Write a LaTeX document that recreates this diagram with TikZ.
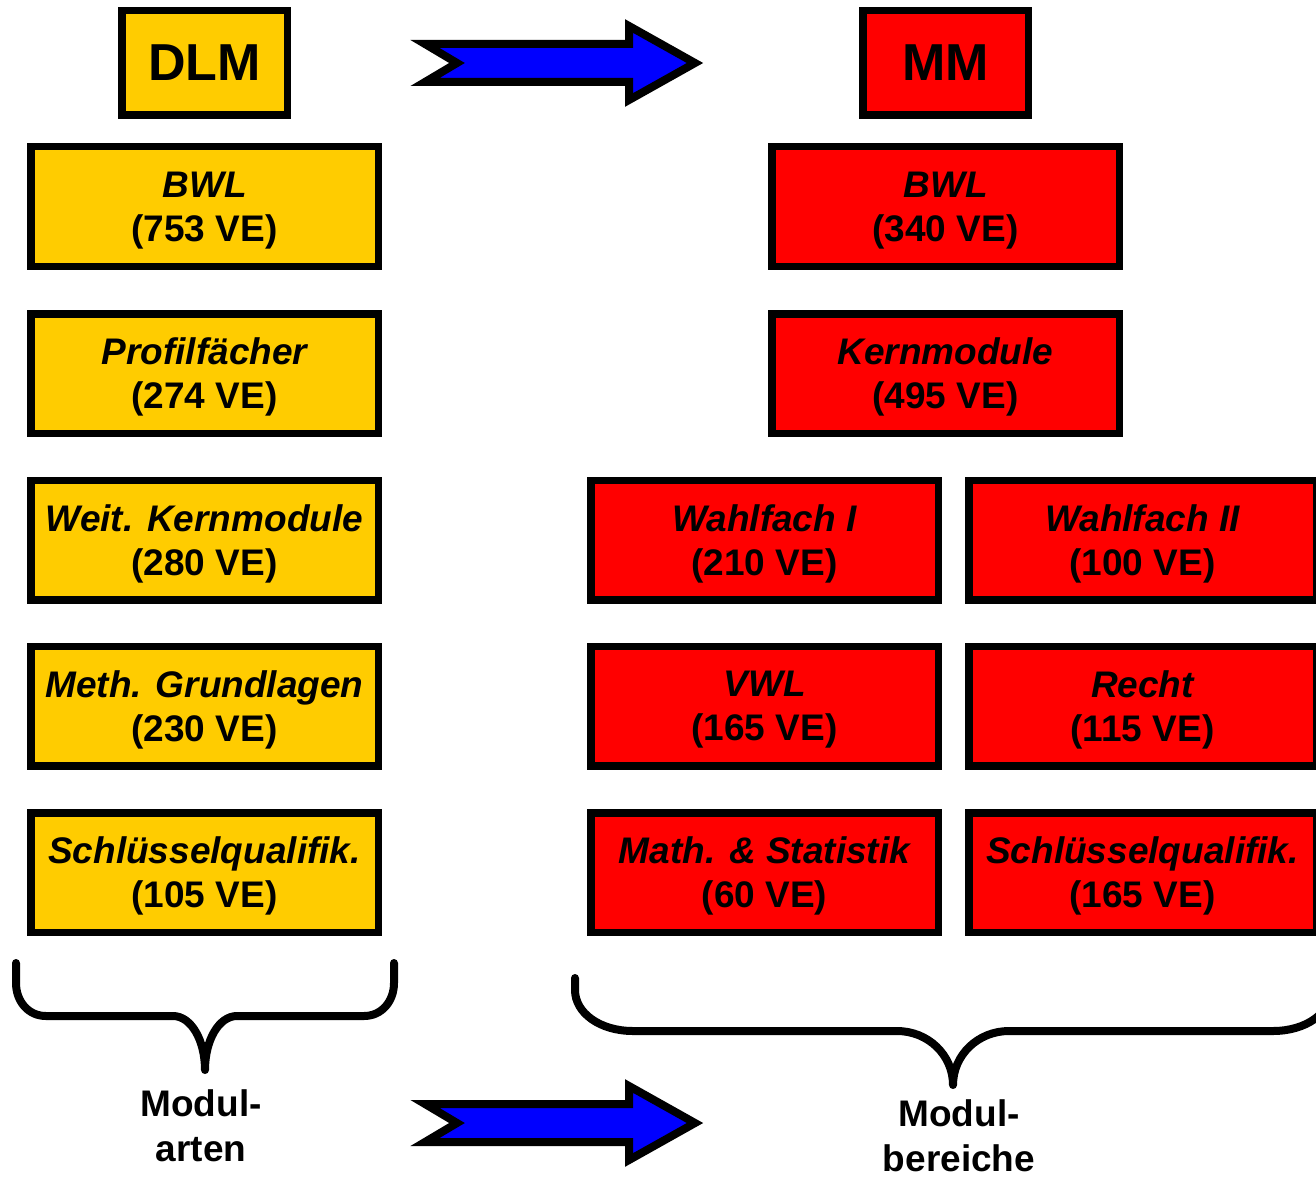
\documentclass[tikz,border=0pt]{standalone}
\usepackage{fontspec}
\setmainfont{Liberation Sans}
\definecolor{dlmyellow}{HTML}{FFCC00}
\definecolor{mmred}{HTML}{FF0000}
\definecolor{arrowblue}{HTML}{0000FF}
\tikzset{
  modbox/.style={draw=black, line width=7.5pt, minimum width=347.5pt,
    minimum height=119.5pt, inner sep=0pt, align=center, text depth=0pt,
    font=\fontsize{37}{44}\selectfont\bfseries},
  dlmbox/.style={modbox, fill=dlmyellow},
  mmbox/.style={modbox, fill=mmred},
  headbox/.style={draw=black, line width=7.5pt, minimum width=165.5pt,
    minimum height=104.5pt, inner sep=0pt,
    font=\fontsize{52}{60}\selectfont\bfseries},
  blockarrow/.style={draw=black, fill=arrowblue, line width=8pt, line join=miter},
  brace/.style={draw=black, line width=8pt, line cap=round, line join=round},
  caption/.style={align=center, inner sep=0pt, text depth=0pt,
    font=\fontsize{37}{45}\selectfont\bfseries}
}
\begin{document}
\begin{tikzpicture}[x=1pt, y=-1pt]
  \useasboundingbox (0,0) rectangle (1316,1177);
  \clip (0,0) rectangle (1316,1177);

  % headers
  \node[headbox, fill=dlmyellow] (dlm) at (204.5,63) {DLM};
  \node[headbox, fill=mmred] (mm) at (945.5,63) {MM};

  % DLM: module types
  \node[dlmbox] (lbwl)  at (204.5,206.5) {{\itshape BWL}\\(753 VE)};
  \node[dlmbox] (lprof) at (204.5,373.5) {{\itshape Profilfächer}\\(274 VE)};
  \node[dlmbox] (lkern) at (204.5,540)   {{\itshape Weit. Kernmodule}\\(280 VE)};
  \node[dlmbox] (lmeth) at (204.5,706)   {{\itshape Meth. Grundlagen}\\(230 VE)};
  \node[dlmbox] (lschl) at (204.5,872.5) {{\itshape Schlüsselqualifik.}\\(105 VE)};

  % MM: module areas
  \node[mmbox] (rbwl)   at (945.5,206.5)  {{\itshape BWL}\\(340 VE)};
  \node[mmbox] (rkern)  at (945.5,373.5)  {{\itshape Kernmodule}\\(495 VE)};
  \node[mmbox] (rwf1)   at (764.5,540)    {{\itshape Wahlfach I}\\(210 VE)};
  \node[mmbox] (rwf2)   at (1142.5,540)   {{\itshape Wahlfach II}\\(100 VE)};
  \node[mmbox] (rvwl)   at (764.5,706)    {{\itshape VWL}\\(165 VE)};
  \node[mmbox] (rrecht) at (1142.5,706)   {{\itshape Recht}\\(115 VE)};
  \node[mmbox] (rmath)  at (764.5,872.5)  {{\itshape Math. \& Statistik}\\(60 VE)};
  \node[mmbox] (rschl)  at (1142.5,872.5) {{\itshape Schlüsselqualifik.}\\(165 VE)};

  % block arrows
  \draw[blockarrow] (425,44) -- (629,44) -- (629,26) -- (695,63) -- (629,100)
    -- (629,82) -- (425,82) -- (457,63) -- cycle;
  \draw[blockarrow] (425,1104) -- (629,1104) -- (629,1086) -- (695,1123) -- (629,1160)
    -- (629,1142) -- (425,1142) -- (457,1123) -- cycle;

  % left brace
  \draw[brace] (16,963) -- (16,983) .. controls (16,1001) and (28,1016) .. (46,1016)
    -- (173,1016) .. controls (191,1016) and (205,1040) .. (205,1070)
    .. controls (205,1040) and (219,1016) .. (237,1016)
    -- (364,1016) .. controls (382,1016) and (394,1001) .. (394,983) -- (394,963);

  % right brace
  \draw[brace] (575,978) -- (575,990) .. controls (575,1013) and (600,1031) .. (633,1031)
    -- (897,1031) .. controls (928,1031) and (953,1055) .. (953,1085)
    .. controls (953,1055) and (978,1031) .. (1009,1031)
    -- (1273,1031) .. controls (1306,1031) and (1331,1013) .. (1331,990) -- (1331,978);

  % captions
  \node[caption] (capl) at (201,1126) {Modul-\\arten};
  \node[caption] (capr) at (959,1136) {Modul-\\bereiche};
\end{tikzpicture}
\end{document}
